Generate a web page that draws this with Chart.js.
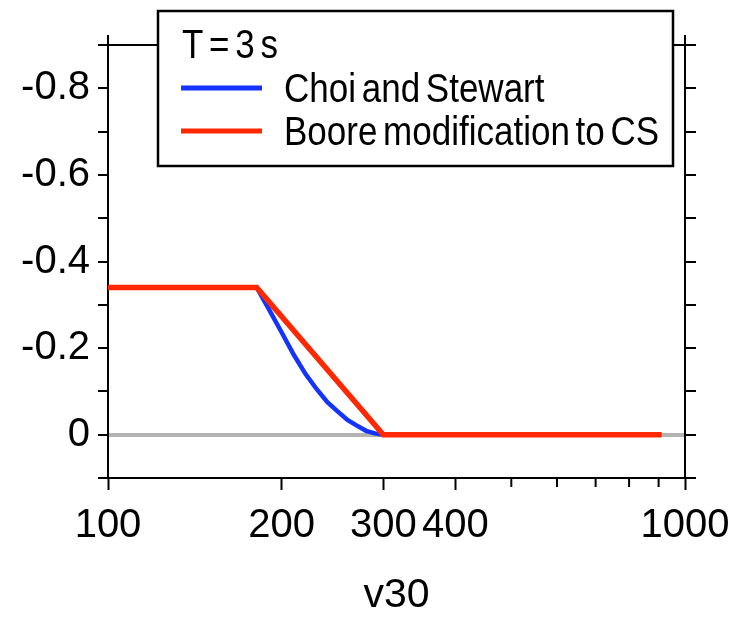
<!DOCTYPE html>
<html>
<head>
<meta charset="utf-8">
<script src="https://cdn.jsdelivr.net/npm/chart.js@4"></script>
<style>
  body { margin: 0; background: #fff; }
</style>
</head>
<body>
<canvas id="grafico" width="743" height="620"></canvas>
<script>
// data
const blueX = [100, 181, 190, 200, 210, 220, 230, 240, 250, 260, 270, 280, 290, 300, 910];
const blueY = [-0.34, -0.34, -0.29, -0.236, -0.184, -0.14, -0.105, -0.075, -0.054, -0.034, -0.021, -0.009, -0.003, 0, 0];
const redX = [100, 181, 300, 910];
const redY = [-0.34, -0.34, 0, 0];
const seriesNames = ['Choi and Stewart', 'Boore modification to CS'];
const legendTitle = 'T = 3 s';
const xMajor = [100, 200, 300, 400, 1000];
const xMinor = [500, 600, 700, 800, 900];
const yTicks = [-0.9, -0.8, -0.7, -0.6, -0.5, -0.4, -0.3, -0.2, -0.1, 0, 0.1];
const yLabeled = [-0.8, -0.6, -0.4, -0.2, 0];
const xTitle = 'v30';

Chart.defaults.font.family = "'Liberation Sans', Arial, sans-serif";
Chart.defaults.font.size = 40;
Chart.defaults.color = '#000';

const toPoints = (xs, ys) => xs.map((x, i) => ({ x: x, y: ys[i] }));

const yLabel = (v) => {
  if (!yLabeled.some(t => Math.abs(t - v) < 1e-9)) return '';
  return Math.abs(v) < 1e-9 ? '0' : v.toFixed(1);
};

const isZero = (c) => c.tick && Math.abs(c.tick.value) < 1e-9;

const framePlugin = {
  id: 'frame',
  afterDraw(chart) {
    const ctx = chart.ctx;
    const a = chart.chartArea;
    const x = chart.scales.x;
    ctx.save();
    ctx.strokeStyle = '#000';
    ctx.lineWidth = 2;
    // top border + small overshoot of the side axes
    ctx.beginPath();
    ctx.moveTo(a.left, a.top);
    ctx.lineTo(a.right, a.top);
    ctx.moveTo(a.left, a.top - 10);
    ctx.lineTo(a.left, a.top);
    ctx.moveTo(a.right, a.top - 10);
    ctx.lineTo(a.right, a.top);
    ctx.stroke();
    // minor x ticks, shorter
    ctx.beginPath();
    xMinor.forEach(v => {
      const px = x.getPixelForValue(v);
      ctx.moveTo(px, a.bottom);
      ctx.lineTo(px, a.bottom + 9);
    });
    ctx.stroke();

    // legend box
    ctx.fillStyle = '#fff';
    ctx.fillRect(158, 11, 515, 155);
    ctx.lineWidth = 2.5;
    ctx.strokeRect(158, 11, 515, 155);
    ctx.fillStyle = '#000';
    ctx.font = "35px 'Liberation Sans', Arial, sans-serif";
    ctx.textBaseline = 'alphabetic';
    ctx.textAlign = 'left';
    ctx.wordSpacing = '-4px';
    const text = (s, tx, ty) => {
      // reference glyphs are a bit taller than wide
      ctx.save();
      ctx.translate(tx, ty);
      ctx.scale(1, 1.15);
      ctx.fillText(s, 0, 0);
      ctx.restore();
    };
    text(legendTitle, 182, 58);
    chart.data.datasets.forEach((ds, i) => {
      const cy = 88 + i * 43;
      ctx.strokeStyle = ds.borderColor;
      ctx.lineWidth = 5;
      ctx.beginPath();
      ctx.moveTo(181, cy);
      ctx.lineTo(262, cy);
      ctx.stroke();
      text(ds.label, 284, cy + 14);
    });
    ctx.restore();
  }
};

const yAxis = (pos, width, tickLen, showZero) => ({
  type: 'linear',
  position: pos,
  min: -0.9,
  max: 0.1,
  reverse: true,
  afterBuildTicks: (s) => { s.ticks = yTicks.map(v => ({ value: v })); },
  afterFit: (s) => { s.width = width; },
  ticks: {
    autoSkip: false,
    padding: 8,
    callback: pos === 'left' ? yLabel : () => ''
  },
  grid: {
    drawOnChartArea: showZero,
    color: (c) => isZero(c) ? '#b3b3b3' : 'rgba(0,0,0,0)',
    lineWidth: (c) => isZero(c) ? 4 : 0,
    tickLength: tickLen,
    tickColor: '#000',
    tickWidth: 2
  },
  border: { display: true, color: '#000', width: 2 }
});

const ctxGrafico = document.getElementById('grafico').getContext('2d');
new Chart(ctxGrafico, {
  type: 'line',
  data: {
    datasets: [
      {
        label: seriesNames[0],
        data: toPoints(blueX, blueY),
        borderColor: '#1433ff',
        borderWidth: 4.5,
        pointRadius: 0,
        tension: 0,
        order: 2
      },
      {
        label: seriesNames[1],
        data: toPoints(redX, redY),
        borderColor: '#ff2800',
        borderWidth: 5.5,
        pointRadius: 0,
        tension: 0,
        order: 1
      }
    ]
  },
  options: {
    responsive: false,
    animation: false,
    layout: { padding: { top: 45, left: 0, right: 0, bottom: 0 } },
    plugins: {
      legend: { display: false },
      tooltip: { enabled: false }
    },
    scales: {
      x: {
        type: 'logarithmic',
        min: 100,
        max: 1000,
        afterBuildTicks: (s) => { s.ticks = xMajor.map(v => ({ value: v })); },
        afterFit: (s) => { s.height = 142; },
        ticks: {
          autoSkip: false,
          maxRotation: 0,
          padding: 12,
          callback: (v) => String(v)
        },
        grid: {
          drawOnChartArea: false,
          tickLength: 12,
          tickColor: '#000',
          tickWidth: 2
        },
        border: { display: true, color: '#000', width: 2 },
        title: {
          display: true,
          text: xTitle,
          font: { size: 41 },
          padding: { top: 0, bottom: 0 }
        }
      },
      y: yAxis('left', 108, 10, true),
      y2: yAxis('right', 58, 11, false)
    }
  },
  plugins: [framePlugin]
});
</script>
</body>
</html>
